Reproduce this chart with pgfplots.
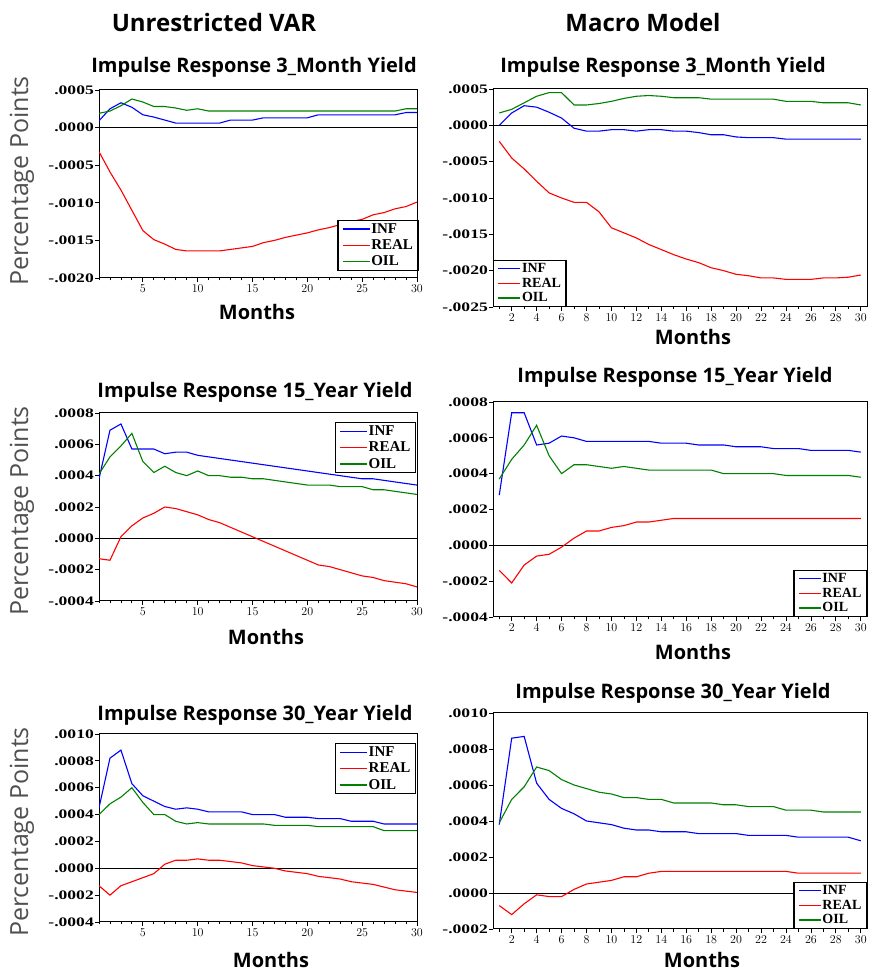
\documentclass[border=0pt]{standalone}
\usepackage{pgfplots}
\pgfplotsset{compat=1.18}
\usepackage{pgfplotstable}
\usepackage{fontspec}
\setmainfont{Liberation Serif}
\newfontfamily\headfont{Open Sans}
\newfontfamily\tickfont[FakeStretch=1.35]{Liberation Serif}

\definecolor{infc}{RGB}{0,0,255}
\definecolor{realc}{RGB}{255,0,0}
\definecolor{oilc}{RGB}{0,128,0}
\definecolor{labgray}{RGB}{80,80,80}

% impulse responses: month, INF shock, REAL shock, OIL shock
\pgfplotstableread{
m inf real oil
1 0.00009 -0.00032 0.00019
2 0.00025 -0.00059 0.00022
3 0.00033 -0.00083 0.00029
4 0.00027 -0.00110 0.00038
5 0.00017 -0.00137 0.00034
6 0.00014 -0.00149 0.00028
7 0.00010 -0.00155 0.00028
8 0.00006 -0.00162 0.00026
9 0.00006 -0.00164 0.00023
10 0.00006 -0.00164 0.00025
11 0.00006 -0.00164 0.00022
12 0.00006 -0.00164 0.00022
13 0.00010 -0.00162 0.00022
14 0.00010 -0.00160 0.00022
15 0.00010 -0.00158 0.00022
16 0.00013 -0.00153 0.00022
17 0.00013 -0.00150 0.00022
18 0.00013 -0.00146 0.00022
19 0.00013 -0.00143 0.00022
20 0.00013 -0.00140 0.00022
21 0.00017 -0.00136 0.00022
22 0.00017 -0.00133 0.00022
23 0.00017 -0.00129 0.00022
24 0.00017 -0.00125 0.00022
25 0.00017 -0.00122 0.00022
26 0.00017 -0.00116 0.00022
27 0.00017 -0.00113 0.00022
28 0.00017 -0.00108 0.00022
29 0.00020 -0.00105 0.00025
30 0.00020 -0.00099 0.00025
}\varThreeM

\pgfplotstableread{
m inf real oil
1 0.00000 -0.00022 0.00017
2 0.00017 -0.00045 0.00022
3 0.00027 -0.00060 0.00031
4 0.00025 -0.00077 0.00040
5 0.00018 -0.00093 0.00045
6 0.00010 -0.00100 0.00045
7 -0.00004 -0.00106 0.00028
8 -0.00008 -0.00106 0.00028
9 -0.00008 -0.00119 0.00030
10 -0.00006 -0.00141 0.00033
11 -0.00006 -0.00148 0.00037
12 -0.00008 -0.00155 0.00040
13 -0.00006 -0.00164 0.00041
14 -0.00006 -0.00171 0.00040
15 -0.00008 -0.00178 0.00038
16 -0.00008 -0.00184 0.00038
17 -0.00010 -0.00189 0.00038
18 -0.00013 -0.00196 0.00036
19 -0.00013 -0.00200 0.00036
20 -0.00016 -0.00205 0.00036
21 -0.00017 -0.00207 0.00036
22 -0.00017 -0.00210 0.00036
23 -0.00017 -0.00210 0.00036
24 -0.00019 -0.00212 0.00033
25 -0.00019 -0.00212 0.00033
26 -0.00019 -0.00212 0.00033
27 -0.00019 -0.00210 0.00031
28 -0.00019 -0.00210 0.00031
29 -0.00019 -0.00209 0.00031
30 -0.00019 -0.00206 0.00028
}\macThreeM

\pgfplotstableread{
m inf real oil
1 0.00038 -0.00013 0.00041
2 0.00069 -0.00014 0.00052
3 0.00073 0.00001 0.00059
4 0.00057 0.00008 0.00067
5 0.00057 0.00013 0.00049
6 0.00057 0.00016 0.00042
7 0.00054 0.00020 0.00046
8 0.00055 0.00019 0.00042
9 0.00055 0.00017 0.00040
10 0.00053 0.00015 0.00043
11 0.00052 0.00012 0.00040
12 0.00051 0.00010 0.00040
13 0.00050 0.00007 0.00039
14 0.00049 0.00004 0.00039
15 0.00048 0.00001 0.00038
16 0.00047 -0.00002 0.00038
17 0.00046 -0.00005 0.00037
18 0.00045 -0.00008 0.00036
19 0.00044 -0.00011 0.00035
20 0.00043 -0.00014 0.00034
21 0.00042 -0.00017 0.00034
22 0.00041 -0.00018 0.00034
23 0.00040 -0.00020 0.00033
24 0.00039 -0.00022 0.00033
25 0.00038 -0.00024 0.00033
26 0.00038 -0.00025 0.00031
27 0.00037 -0.00027 0.00031
28 0.00036 -0.00028 0.00030
29 0.00035 -0.00029 0.00029
30 0.00034 -0.00031 0.00028
}\varFifteenY

\pgfplotstableread{
m inf real oil
1 0.00028 -0.00014 0.00037
2 0.00074 -0.00021 0.00048
3 0.00074 -0.00011 0.00056
4 0.00056 -0.00006 0.00067
5 0.00057 -0.00005 0.00050
6 0.00061 -0.00001 0.00040
7 0.00060 0.00004 0.00045
8 0.00058 0.00008 0.00045
9 0.00058 0.00008 0.00044
10 0.00058 0.00010 0.00043
11 0.00058 0.00011 0.00044
12 0.00058 0.00013 0.00043
13 0.00058 0.00013 0.00042
14 0.00057 0.00014 0.00042
15 0.00057 0.00015 0.00042
16 0.00057 0.00015 0.00042
17 0.00056 0.00015 0.00042
18 0.00056 0.00015 0.00042
19 0.00056 0.00015 0.00040
20 0.00055 0.00015 0.00040
21 0.00055 0.00015 0.00040
22 0.00055 0.00015 0.00040
23 0.00054 0.00015 0.00040
24 0.00054 0.00015 0.00039
25 0.00054 0.00015 0.00039
26 0.00053 0.00015 0.00039
27 0.00053 0.00015 0.00039
28 0.00053 0.00015 0.00039
29 0.00053 0.00015 0.00039
30 0.00052 0.00015 0.00038
}\macFifteenY

\pgfplotstableread{
m inf real oil
1 0.00045 -0.00013 0.00040
2 0.00082 -0.00020 0.00048
3 0.00088 -0.00013 0.00053
4 0.00063 -0.00010 0.00060
5 0.00054 -0.00007 0.00049
6 0.00050 -0.00004 0.00040
7 0.00046 0.00003 0.00040
8 0.00044 0.00006 0.00035
9 0.00045 0.00006 0.00033
10 0.00044 0.00007 0.00034
11 0.00042 0.00006 0.00033
12 0.00042 0.00006 0.00033
13 0.00042 0.00005 0.00033
14 0.00042 0.00004 0.00033
15 0.00040 0.00002 0.00033
16 0.00040 0.00001 0.00033
17 0.00040 0.00000 0.00032
18 0.00038 -0.00002 0.00032
19 0.00038 -0.00003 0.00032
20 0.00038 -0.00004 0.00032
21 0.00037 -0.00006 0.00031
22 0.00037 -0.00007 0.00031
23 0.00037 -0.00008 0.00031
24 0.00035 -0.00010 0.00031
25 0.00035 -0.00011 0.00031
26 0.00035 -0.00012 0.00031
27 0.00033 -0.00014 0.00028
28 0.00033 -0.00016 0.00028
29 0.00033 -0.00017 0.00028
30 0.00033 -0.00018 0.00028
}\varThirtyY

\pgfplotstableread{
m inf real oil
1 0.00038 -0.00007 0.00039
2 0.00086 -0.00012 0.00052
3 0.00087 -0.00006 0.00059
4 0.00061 -0.00001 0.00070
5 0.00052 -0.00002 0.00068
6 0.00047 -0.00002 0.00063
7 0.00044 0.00002 0.00060
8 0.00040 0.00005 0.00058
9 0.00039 0.00006 0.00056
10 0.00038 0.00007 0.00055
11 0.00036 0.00009 0.00053
12 0.00035 0.00009 0.00053
13 0.00035 0.00011 0.00052
14 0.00034 0.00012 0.00052
15 0.00034 0.00012 0.00050
16 0.00034 0.00012 0.00050
17 0.00033 0.00012 0.00050
18 0.00033 0.00012 0.00050
19 0.00033 0.00012 0.00049
20 0.00033 0.00012 0.00049
21 0.00032 0.00012 0.00048
22 0.00032 0.00012 0.00048
23 0.00032 0.00012 0.00048
24 0.00032 0.00012 0.00046
25 0.00031 0.00011 0.00046
26 0.00031 0.00011 0.00046
27 0.00031 0.00011 0.00045
28 0.00031 0.00011 0.00045
29 0.00031 0.00011 0.00045
30 0.00029 0.00011 0.00045
}\macThirtyY

\pgfplotsset{
  irf/.style={
    scale only axis,
    anchor=south west,
    scaled y ticks=false,
    axis line style={line width=1pt},
    tick align=outside,
    xtick pos=lower, ytick pos=left,
    major tick length=4pt,
    minor tick length=2.5pt,
    every tick/.style={black, line width=0.8pt},
    minor xtick={1,...,30},
    ticklabel style={font=\fontsize{13}{13}\selectfont\tickfont\bfseries},
    yticklabel style={inner sep=1pt},
    xticklabel style={inner sep=3pt},
    legend cell align=left,
    legend style={draw=black, line width=1.3pt, fill=white,
      nodes={inner sep=1pt}, inner xsep=4pt, inner ysep=2pt},
  },
  leftcol/.style={irf, width=318pt, height=188pt,
    xmin=1, xmax=30, xtick={5,10,...,30},
    legend image code/.code={\draw[##1, line width=1.4pt] (0pt,0pt) -- (27pt,0pt);},
    legend style={font=\fontsize{15}{15}\selectfont\bfseries, row sep=3pt}},
  rightcol/.style={irf, width=374pt,
    xmin=0.5, xmax=30.5, xtick={2,4,...,30},
    legend image code/.code={\draw[##1, line width=1.4pt] (0pt,0pt) -- (22pt,0pt);},
    legend style={font=\fontsize{14}{14}\selectfont\bfseries, row sep=2pt}},
  infl/.style={color=infc, line width=1.1pt},
  reall/.style={color=realc, line width=1.1pt},
  oill/.style={color=oilc, line width=1.1pt},
  zerol/.style={color=black, line width=0.8pt, forget plot},
}

\newcommand\threeseries[1]{%
  \addplot[zerol] coordinates {(0.5,0) (30.5,0)};
  \addplot[infl] table[x=m,y=inf]{#1};
  \addlegendentry{INF}
  \addplot[reall] table[x=m,y=real]{#1};
  \addlegendentry{REAL}
  \addplot[oill] table[x=m,y=oil]{#1};
  \addlegendentry{OIL}}

\begin{document}
\begin{tikzpicture}
\path[use as bounding box] (0,0) rectangle (873pt,974pt);

% column headings
\node[font=\fontsize{24}{24}\selectfont\headfont\bfseries] at (214pt,951pt) {Unrestricted VAR};
\node[font=\fontsize{24}{24}\selectfont\headfont\bfseries] at (643pt,951pt) {Macro Model};

% ---- 3-month yield ----
\begin{axis}[leftcol, at={(99pt,696pt)},
  ymin=-0.002, ymax=0.0005,
  ytick={-0.002,-0.0015,-0.001,-0.0005,0,0.0005},
  yticklabels={-.0020,-.0015,-.0010,-.0005,.0000,.0005},
  legend style={at={(1.005,0.037)}, anchor=south east}]
\threeseries{\varThreeM}
\end{axis}

\begin{axis}[rightcol, height=218pt, at={(493pt,667pt)},
  ymin=-0.0025, ymax=0.0005,
  ytick={-0.0025,-0.002,-0.0015,-0.001,-0.0005,0,0.0005},
  yticklabels={-.0025,-.0020,-.0015,-.0010,-.0005,.0000,.0005},
  legend style={at={(0,0)}, anchor=south west}]
\threeseries{\macThreeM}
\end{axis}

% ---- 15-year yield ----
\begin{axis}[leftcol, at={(99pt,373pt)},
  ymin=-0.0004, ymax=0.0008,
  ytick={-0.0004,-0.0002,0,0.0002,0.0004,0.0006,0.0008},
  yticklabels={-.0004,-.0002,.0000,.0002,.0004,.0006,.0008},
  legend style={at={(0.997,0.952)}, anchor=north east}]
\threeseries{\varFifteenY}
\end{axis}

\begin{axis}[rightcol, height=215pt, at={(493pt,357pt)},
  ymin=-0.0004, ymax=0.0008,
  ytick={-0.0004,-0.0002,0,0.0002,0.0004,0.0006,0.0008},
  yticklabels={-.0004,-.0002,.0000,.0002,.0004,.0006,.0008},
  legend style={at={(1,0)}, anchor=south east}]
\threeseries{\macFifteenY}
\end{axis}

% ---- 30-year yield ----
\begin{axis}[leftcol, at={(99pt,52pt)},
  ymin=-0.0004, ymax=0.001,
  ytick={-0.0004,-0.0002,0,0.0002,0.0004,0.0006,0.0008,0.001},
  yticklabels={-.0004,-.0002,.0000,.0002,.0004,.0006,.0008,.0010},
  legend style={at={(0.997,0.952)}, anchor=north east}]
\threeseries{\varThirtyY}
\end{axis}

\begin{axis}[rightcol, height=216pt, at={(493pt,45pt)},
  ymin=-0.0002, ymax=0.001,
  ytick={-0.0002,0,0.0002,0.0004,0.0006,0.0008,0.001},
  yticklabels={-.0002,.0000,.0002,.0004,.0006,.0008,.0010},
  legend style={at={(1,0)}, anchor=south east}]
\threeseries{\macThirtyY}
\end{axis}

% panel titles
\begin{scope}[every node/.style={font=\fontsize{20}{20}\selectfont\headfont\bfseries}]
\node at (254pt,907pt) {Impulse Response 3\_Month Yield};
\node at (663pt,907pt) {Impulse Response 3\_Month Yield};
\node at (255pt,582pt) {Impulse Response 15\_Year Yield};
\node at (675pt,597pt) {Impulse Response 15\_Year Yield};
\node at (255pt,259pt) {Impulse Response 30\_Year Yield};
\node at (673pt,281pt) {Impulse Response 30\_Year Yield};
% x-axis labels
\node at (257pt,662pt) {Months};
\node at (693pt,637pt) {Months};
\node at (266pt,337pt) {Months};
\node at (693pt,322pt) {Months};
\node at (271pt,14pt) {Months};
\node at (702pt,14pt) {Months};
\end{scope}

% y-axis labels
\begin{scope}[every node/.style={rotate=90, text=labgray, font=\fontsize{25}{25}\selectfont\headfont}]
\node at (22pt,793pt) {Percentage Points};
\node at (22pt,463pt) {Percentage Points};
\node at (22pt,142pt) {Percentage Points};
\end{scope}
\end{tikzpicture}
\end{document}
